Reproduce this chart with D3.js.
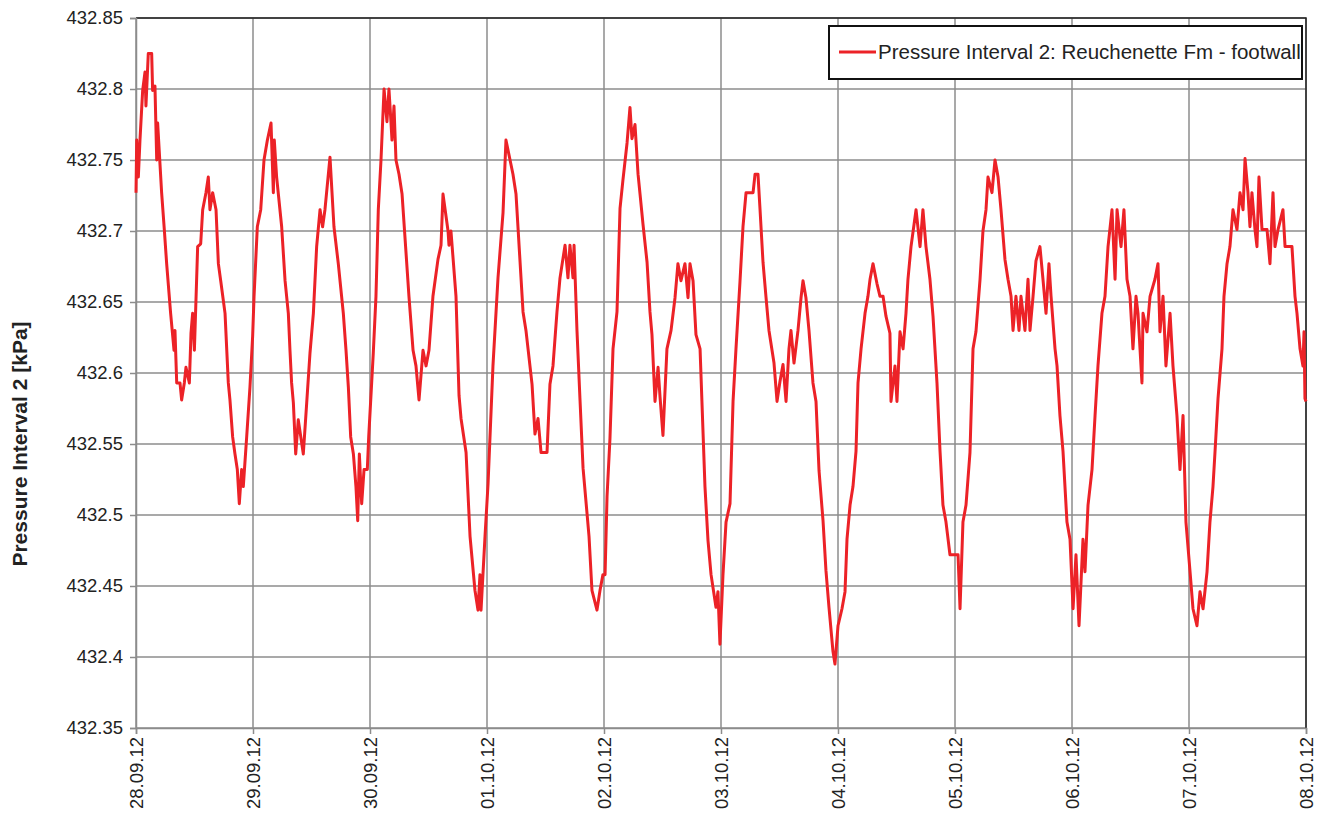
<!DOCTYPE html>
<html>
<head>
<meta charset="utf-8">
<script src="https://cdn.jsdelivr.net/npm/d3@7"></script>
<style>
  body { margin: 0; background: #fff; }
  svg { display: block; font-family: "Liberation Sans", Arial, sans-serif; }
</style>
</head>
<body>
<svg></svg>
<script>
// time in days after 28.09.12 00:00
const dayOffsets = [
  0.000, 0.006, 0.020, 0.034, 0.057, 0.077, 0.085, 0.105, 0.134, 0.142, 0.162, 0.177, 0.185, 0.219, 0.242, 0.262,
  0.296, 0.325, 0.333, 0.348, 0.376, 0.390, 0.413, 0.427, 0.456, 0.470, 0.484, 0.499, 0.527, 0.553, 0.570, 0.598,
  0.618, 0.632, 0.655, 0.684, 0.704, 0.724, 0.761, 0.789, 0.803, 0.826, 0.846, 0.866, 0.883, 0.903, 0.917, 0.946,
  0.974, 0.997, 1.009, 1.037, 1.066, 1.094, 1.123, 1.154, 1.174, 1.182, 1.202, 1.245, 1.274, 1.302, 1.316, 1.330,
  1.345, 1.365, 1.387, 1.430, 1.459, 1.487, 1.516, 1.544, 1.573, 1.595, 1.615, 1.658, 1.692, 1.729, 1.772, 1.795,
  1.815, 1.835, 1.858, 1.880, 1.895, 1.909, 1.929, 1.949, 1.977, 1.989, 2.028, 2.051, 2.071, 2.094, 2.120, 2.145,
  2.162, 2.179, 2.188, 2.205, 2.222, 2.248, 2.274, 2.333, 2.368, 2.393, 2.419, 2.453, 2.479, 2.504, 2.538, 2.581,
  2.607, 2.624, 2.667, 2.675, 2.692, 2.735, 2.761, 2.778, 2.821, 2.855, 2.897, 2.923, 2.940, 2.949, 2.983, 3.009,
  3.051, 3.094, 3.137, 3.162, 3.197, 3.222, 3.248, 3.308, 3.333, 3.385, 3.410, 3.436, 3.462, 3.513, 3.538, 3.564,
  3.598, 3.624, 3.667, 3.692, 3.709, 3.735, 3.744, 3.769, 3.795, 3.821, 3.872, 3.897, 3.940, 3.966, 3.991, 4.009,
  4.026, 4.051, 4.077, 4.111, 4.137, 4.162, 4.197, 4.222, 4.239, 4.265, 4.291, 4.308, 4.333, 4.368, 4.393, 4.410,
  4.436, 4.462, 4.479, 4.504, 4.538, 4.573, 4.607, 4.632, 4.658, 4.692, 4.718, 4.735, 4.761, 4.786, 4.821, 4.863,
  4.889, 4.915, 4.957, 4.974, 4.991, 5.017, 5.043, 5.077, 5.103, 5.128, 5.162, 5.188, 5.214, 5.274, 5.291, 5.316,
  5.333, 5.359, 5.385, 5.410, 5.453, 5.479, 5.504, 5.530, 5.556, 5.581, 5.598, 5.624, 5.658, 5.684, 5.701, 5.726,
  5.752, 5.786, 5.812, 5.838, 5.872, 5.897, 5.923, 5.957, 5.974, 6.000, 6.034, 6.060, 6.077, 6.103, 6.128, 6.154,
  6.171, 6.197, 6.231, 6.256, 6.274, 6.299, 6.333, 6.359, 6.385, 6.410, 6.444, 6.453, 6.487, 6.504, 6.530, 6.556,
  6.581, 6.598, 6.624, 6.667, 6.701, 6.726, 6.752, 6.786, 6.812, 6.846, 6.872, 6.897, 6.923, 6.957, 7.026, 7.043,
  7.068, 7.094, 7.128, 7.154, 7.179, 7.214, 7.239, 7.265, 7.282, 7.316, 7.342, 7.368, 7.393, 7.427, 7.453, 7.479,
  7.496, 7.521, 7.547, 7.564, 7.598, 7.624, 7.641, 7.667, 7.692, 7.726, 7.752, 7.778, 7.803, 7.821, 7.855, 7.872,
  7.897, 7.923, 7.957, 7.983, 8.009, 8.034, 8.060, 8.094, 8.111, 8.137, 8.171, 8.197, 8.222, 8.256, 8.282, 8.308,
  8.342, 8.368, 8.385, 8.419, 8.444, 8.470, 8.496, 8.521, 8.547, 8.564, 8.598, 8.607, 8.641, 8.667, 8.709, 8.735,
  8.752, 8.778, 8.803, 8.838, 8.863, 8.897, 8.923, 8.949, 8.974, 9.009, 9.034, 9.068, 9.094, 9.120, 9.154, 9.179,
  9.205, 9.222, 9.248, 9.282, 9.299, 9.325, 9.350, 9.376, 9.410, 9.436, 9.462, 9.479, 9.504, 9.521, 9.538, 9.564,
  9.581, 9.598, 9.624, 9.667, 9.692, 9.718, 9.735, 9.761, 9.803, 9.821, 9.880, 9.906, 9.923, 9.949, 9.974, 9.983,
  9.991, 10.000
];

// pressure in kPa, one per time above
const pressure = [
  432.727, 432.764, 432.738, 432.764, 432.799, 432.812, 432.788, 432.825, 432.825, 432.799, 432.802, 432.750, 432.776, 432.727, 432.701, 432.677,
  432.642, 432.616, 432.630, 432.593, 432.593, 432.581, 432.593, 432.604, 432.593, 432.628, 432.642, 432.616, 432.689, 432.691, 432.715, 432.727,
  432.738, 432.715, 432.727, 432.715, 432.677, 432.665, 432.642, 432.593, 432.581, 432.555, 432.543, 432.532, 432.508, 432.532, 432.520, 432.555,
  432.590, 432.626, 432.654, 432.703, 432.715, 432.750, 432.764, 432.776, 432.727, 432.764, 432.738, 432.703, 432.665, 432.642, 432.616, 432.593,
  432.579, 432.543, 432.567, 432.543, 432.579, 432.614, 432.642, 432.689, 432.715, 432.703, 432.715, 432.752, 432.703, 432.677, 432.642, 432.616,
  432.590, 432.555, 432.543, 432.520, 432.496, 432.543, 432.508, 432.532, 432.532, 432.555, 432.614, 432.654, 432.715, 432.750, 432.800, 432.777,
  432.800, 432.777, 432.764, 432.788, 432.750, 432.740, 432.726, 432.654, 432.616, 432.605, 432.581, 432.616, 432.605, 432.616, 432.654, 432.680,
  432.690, 432.726, 432.700, 432.690, 432.700, 432.654, 432.584, 432.568, 432.544, 432.485, 432.447, 432.433, 432.458, 432.433, 432.485, 432.522,
  432.605, 432.667, 432.713, 432.764, 432.750, 432.740, 432.726, 432.643, 432.630, 432.592, 432.557, 432.568, 432.544, 432.544, 432.592, 432.605,
  432.643, 432.667, 432.690, 432.667, 432.690, 432.667, 432.690, 432.630, 432.581, 432.533, 432.485, 432.447, 432.433, 432.447, 432.458, 432.458,
  432.513, 432.554, 432.617, 432.643, 432.716, 432.736, 432.762, 432.787, 432.765, 432.775, 432.740, 432.726, 432.705, 432.678, 432.643, 432.627,
  432.580, 432.604, 432.583, 432.556, 432.617, 432.630, 432.653, 432.677, 432.665, 432.677, 432.653, 432.677, 432.665, 432.627, 432.617, 432.520,
  432.482, 432.458, 432.435, 432.446, 432.409, 432.458, 432.495, 432.508, 432.580, 432.617, 432.664, 432.703, 432.727, 432.727, 432.740, 432.740,
  432.716, 432.678, 432.653, 432.630, 432.607, 432.580, 432.594, 432.606, 432.580, 432.617, 432.630, 432.607, 432.630, 432.653, 432.665, 432.653,
  432.630, 432.593, 432.580, 432.531, 432.496, 432.461, 432.435, 432.404, 432.395, 432.422, 432.434, 432.446, 432.483, 432.507, 432.520, 432.545,
  432.593, 432.617, 432.642, 432.654, 432.666, 432.677, 432.663, 432.654, 432.654, 432.640, 432.628, 432.580, 432.605, 432.580, 432.629, 432.617,
  432.642, 432.666, 432.689, 432.715, 432.689, 432.715, 432.689, 432.666, 432.640, 432.593, 432.545, 432.507, 432.495, 432.472, 432.472, 432.434,
  432.495, 432.507, 432.544, 432.617, 432.629, 432.666, 432.700, 432.715, 432.738, 432.727, 432.750, 432.738, 432.715, 432.680, 432.666, 432.654,
  432.630, 432.654, 432.630, 432.654, 432.630, 432.666, 432.630, 432.654, 432.679, 432.689, 432.666, 432.642, 432.677, 432.654, 432.617, 432.605,
  432.570, 432.545, 432.495, 432.483, 432.434, 432.472, 432.422, 432.483, 432.460, 432.507, 432.532, 432.570, 432.605, 432.642, 432.654, 432.689,
  432.715, 432.666, 432.715, 432.689, 432.715, 432.666, 432.654, 432.617, 432.654, 432.642, 432.593, 432.642, 432.629, 432.654, 432.666, 432.677,
  432.629, 432.654, 432.605, 432.642, 432.605, 432.570, 432.532, 432.570, 432.495, 432.460, 432.434, 432.422, 432.446, 432.434, 432.460, 432.495,
  432.520, 432.544, 432.582, 432.617, 432.654, 432.677, 432.689, 432.715, 432.701, 432.727, 432.715, 432.751, 432.727, 432.703, 432.727, 432.701,
  432.689, 432.738, 432.701, 432.701, 432.677, 432.727, 432.689, 432.701, 432.715, 432.689, 432.689, 432.654, 432.642, 432.617, 432.605, 432.629,
  432.582, 432.580
];

const yTicks = [432.35, 432.4, 432.45, 432.5, 432.55, 432.6, 432.65, 432.7, 432.75, 432.8, 432.85];
const seriesName = 'Pressure Interval 2: Reuchenette Fm - footwall';
const yTitle = 'Pressure Interval 2 [kPa]';

const width = 1324, height = 816;
const margin = { top: 18, right: 18, bottom: 88, left: 136 };

const svg = d3.select('svg')
  .attr('width', width)
  .attr('height', height);

const start = new Date(2012, 8, 28);
const end = new Date(2012, 9, 8);
const dayMs = 86400000;

const data = dayOffsets.map((d, i) => ({
  date: new Date(start.getTime() + d * dayMs),
  value: pressure[i]
}));

const x = d3.scaleTime()
  .domain([start, end])
  .range([margin.left, width - margin.right]);

const y = d3.scaleLinear()
  .domain([432.35, 432.85])
  .range([height - margin.bottom, margin.top]);

const days = d3.timeDay.range(start, d3.timeDay.offset(end, 1));

// grid
const grid = svg.append('g').attr('class', 'grid');
grid.selectAll('line.h')
  .data(yTicks)
  .enter().append('line')
  .attr('class', 'h')
  .attr('x1', margin.left)
  .attr('x2', width - margin.right)
  .attr('y1', d => y(d))
  .attr('y2', d => y(d))
  .attr('stroke', '#8c8c8c')
  .attr('stroke-width', 1.5);

grid.selectAll('line.v')
  .data(days)
  .enter().append('line')
  .attr('class', 'v')
  .attr('x1', d => x(d))
  .attr('x2', d => x(d))
  .attr('y1', margin.top)
  .attr('y2', height - margin.bottom)
  .attr('stroke', '#8c8c8c')
  .attr('stroke-width', 1.5);

// top and right frame are dark
svg.append('path')
  .attr('d', `M${margin.left},${margin.top}H${width - margin.right}V${height - margin.bottom}`)
  .attr('fill', 'none')
  .attr('stroke', '#222')
  .attr('stroke-width', 1.5);

// axes
const yAxis = svg.append('g')
  .attr('transform', `translate(${margin.left},0)`)
  .call(d3.axisLeft(y).tickValues(yTicks).tickFormat(d => String(+d.toFixed(2))).tickSize(6).tickPadding(7));

const xAxis = svg.append('g')
  .attr('transform', `translate(0,${height - margin.bottom})`)
  .call(d3.axisBottom(x).tickValues(days).tickFormat(d3.timeFormat('%d.%m.%y')).tickSize(6));

[yAxis, xAxis].forEach(a => {
  a.select('.domain').attr('stroke', '#8c8c8c').attr('stroke-width', 1.5);
  a.selectAll('.tick line').attr('stroke', '#8c8c8c').attr('stroke-width', 1.5);
  a.selectAll('text').attr('fill', '#222').style('font-size', '18.5px');
});

xAxis.selectAll('text')
  .attr('transform', 'rotate(-90)')
  .attr('text-anchor', 'end')
  .attr('x', -9)
  .attr('y', 0)
  .attr('dy', '0.35em');

// y title
svg.append('text')
  .attr('transform', `translate(20,${(margin.top + height - margin.bottom) / 2 + 71}) rotate(-90)`)
  .attr('text-anchor', 'middle')
  .attr('dy', '0.35em')
  .style('font-size', '21px')
  .style('font-weight', 'bold')
  .attr('fill', '#222')
  .text(yTitle);

// series
const line = d3.line()
  .x(d => x(d.date))
  .y(d => y(d.value));

svg.append('path')
  .datum(data)
  .attr('fill', 'none')
  .attr('stroke', '#ec2227')
  .attr('stroke-width', 3)
  .attr('stroke-linejoin', 'round')
  .attr('d', line);

// legend
const legend = svg.append('g').attr('transform', 'translate(829,26)');
legend.append('rect')
  .attr('width', 473)
  .attr('height', 53)
  .attr('fill', '#fff')
  .attr('stroke', '#111')
  .attr('stroke-width', 2);
legend.append('line')
  .attr('x1', 10).attr('x2', 47)
  .attr('y1', 26).attr('y2', 26)
  .attr('stroke', '#ec2227')
  .attr('stroke-width', 3);
legend.append('text')
  .attr('x', 49)
  .attr('y', 26)
  .attr('dy', '0.35em')
  .style('font-size', '20.5px')
  .attr('fill', '#222')
  .text(seriesName);
</script>
</body>
</html>
